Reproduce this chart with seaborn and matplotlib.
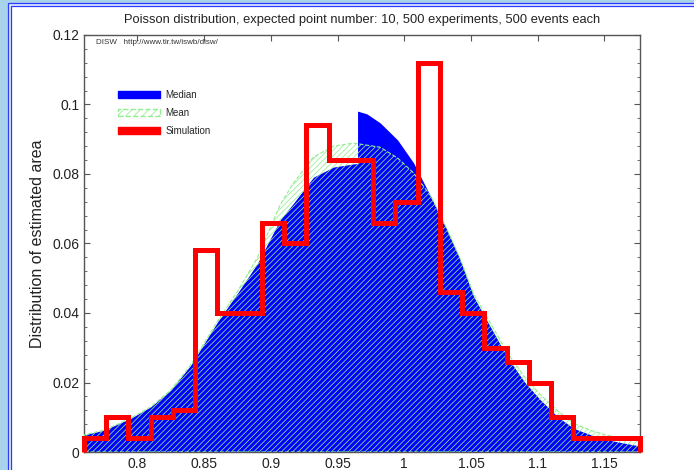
import numpy as np
import matplotlib
matplotlib.use("Agg")
import matplotlib.pyplot as plt
from matplotlib.patches import Patch, Rectangle
import seaborn as sns

# simulated histogram (fraction of experiments per bin)
sim_edges = [0.76 + k / 60 for k in range(26)]
sim_values = [0.004, 0.010, 0.004, 0.010, 0.012, 0.058, 0.040, 0.040, 0.066, 0.060,
              0.094, 0.084, 0.084, 0.066, 0.072, 0.112, 0.046, 0.040, 0.030, 0.026,
              0.020, 0.010, 0.004, 0.004, 0.004]

# median curve (jump near 0.965)
median_x = [0.760, 0.775, 0.795, 0.810, 0.825, 0.840, 0.860, 0.875, 0.890, 0.907,
            0.917, 0.932, 0.947, 0.962, 0.965, 0.965, 0.972, 0.982, 0.995, 1.007,
            1.020, 1.032, 1.042, 1.052, 1.065, 1.077, 1.090, 1.102, 1.115, 1.127,
            1.140, 1.152, 1.1767]
median_y = [0.0049, 0.0063, 0.0097, 0.0130, 0.0178, 0.0250, 0.0374, 0.0457, 0.0543, 0.0668,
            0.0716, 0.0791, 0.0820, 0.0829, 0.0830, 0.0981, 0.0973, 0.0947, 0.0898, 0.0832,
            0.0734, 0.0639, 0.0552, 0.0447, 0.0357, 0.0274, 0.0202, 0.0150, 0.0101, 0.0068,
            0.0049, 0.0035, 0.0017]

# mean curve
mean_x = [0.760, 0.775, 0.795, 0.810, 0.825, 0.840, 0.860, 0.875, 0.890, 0.907,
          0.917, 0.932, 0.947, 0.962, 0.982, 0.995, 1.007, 1.020, 1.032, 1.042,
          1.052, 1.065, 1.077, 1.090, 1.102, 1.115, 1.127, 1.140, 1.152, 1.1767]
mean_y = [0.0049, 0.0063, 0.0097, 0.0130, 0.0178, 0.0250, 0.0376, 0.0462, 0.0560, 0.0711,
          0.0774, 0.0849, 0.0880, 0.0889, 0.0877, 0.0846, 0.0803, 0.0736, 0.0642, 0.0556,
          0.0455, 0.0368, 0.0287, 0.0217, 0.0165, 0.0118, 0.0082, 0.0062, 0.0048, 0.0030]

x_ticks = [0.8, 0.85, 0.9, 0.95, 1, 1.05, 1.1, 1.15]
x_labels = ["0.8", "0.85", "0.9", "0.95", "1", "1.05", "1.1", "1.15"]
y_ticks = [0, 0.02, 0.04, 0.06, 0.08, 0.1, 0.12]
y_labels = ["0", "0.02", "0.04", "0.06", "0.08", "0.1", "0.12"]

sns.set_style("ticks")
plt.rcParams["font.family"] = ["Liberation Sans", "DejaVu Sans"]
plt.rcParams["hatch.linewidth"] = 0.55

blue = "#0000ff"
green = "#90ee90"
red = "#ff0000"
grey = "#555555"

fig = plt.figure(figsize=(6.94, 4.70), dpi=100, facecolor="#a9d3ea")
W, H = 694, 470
fig.patches.append(Rectangle((8 / W, -0.1), 1.2, 1 - 3 / H + 0.1, transform=fig.transFigure,
                             facecolor="#dfe8ff", edgecolor="#2b3cff", lw=0.9, zorder=-2))
fig.patches.append(Rectangle((10.5 / W, -0.1), 1.2, 1 - 5.5 / H + 0.1, transform=fig.transFigure,
                             facecolor="white", edgecolor="#2b3cff", lw=0.9, zorder=-1))

ax = fig.add_axes([84 / W, 1 - 452 / H, 556 / W, 417 / H])
ax.set_facecolor("white")

ax.fill_between(median_x, 0, median_y, color=blue, lw=0, zorder=2)
ax.fill_between(mean_x, 0, mean_y, facecolor="none", edgecolor=green, hatch="//////",
                linestyle="--", lw=0.8, zorder=3)

# simulation histogram outline, closed down to zero at both ends
ax.stairs(sim_values, sim_edges, baseline=0, color=red, linewidth=3.6,
          joinstyle="miter", clip_on=False, zorder=4)

ax.set_xlim(sim_edges[0], sim_edges[-1])
ax.set_ylim(0, 0.12)
ax.set_xticks(x_ticks)
ax.set_xticklabels(x_labels)
ax.set_yticks(y_ticks)
ax.set_yticklabels(y_labels)
ax.set_yticks(np.arange(0, 0.1201, 0.004), minor=True)
ax.tick_params(which="both", direction="in", top=True, right=True, colors=grey,
               labelcolor="#222222", labelsize=10)
ax.tick_params(which="major", length=4, width=0.8)
ax.tick_params(which="minor", length=2.5, width=0.6)
ax.tick_params(axis="x", which="minor", top=False, bottom=False)
for sp in ax.spines.values():
    sp.set_color(grey)
    sp.set_linewidth(1.0)

ax.set_ylabel("Distribution of estimated area", fontsize=11.5, color="#222222", labelpad=5)
ax.set_title("Poisson distribution, expected point number: 10, 500 experiments, 500 events each",
             fontsize=9.3, color="#222222", pad=9)
ax.text(0.021, 0.983, "DISW   http://www.tir.tw/iswb/disw/", transform=ax.transAxes,
        fontsize=5.8, va="center", ha="left", color="#333333")

handles = [Patch(facecolor=blue, edgecolor=blue),
           Patch(facecolor="none", edgecolor=green, hatch="////", linestyle="--"),
           Patch(facecolor=red, edgecolor=red)]
ax.legend(handles, ["Median", "Mean", "Simulation"], loc="upper left",
          bbox_to_anchor=(0.061, 0.868), frameon=False, fontsize=7, handlelength=4.3,
          handleheight=0.7, labelspacing=0.8, handletextpad=0.6, borderpad=0,
          borderaxespad=0)

fig.savefig("out.png", dpi=100, facecolor=fig.get_facecolor())
